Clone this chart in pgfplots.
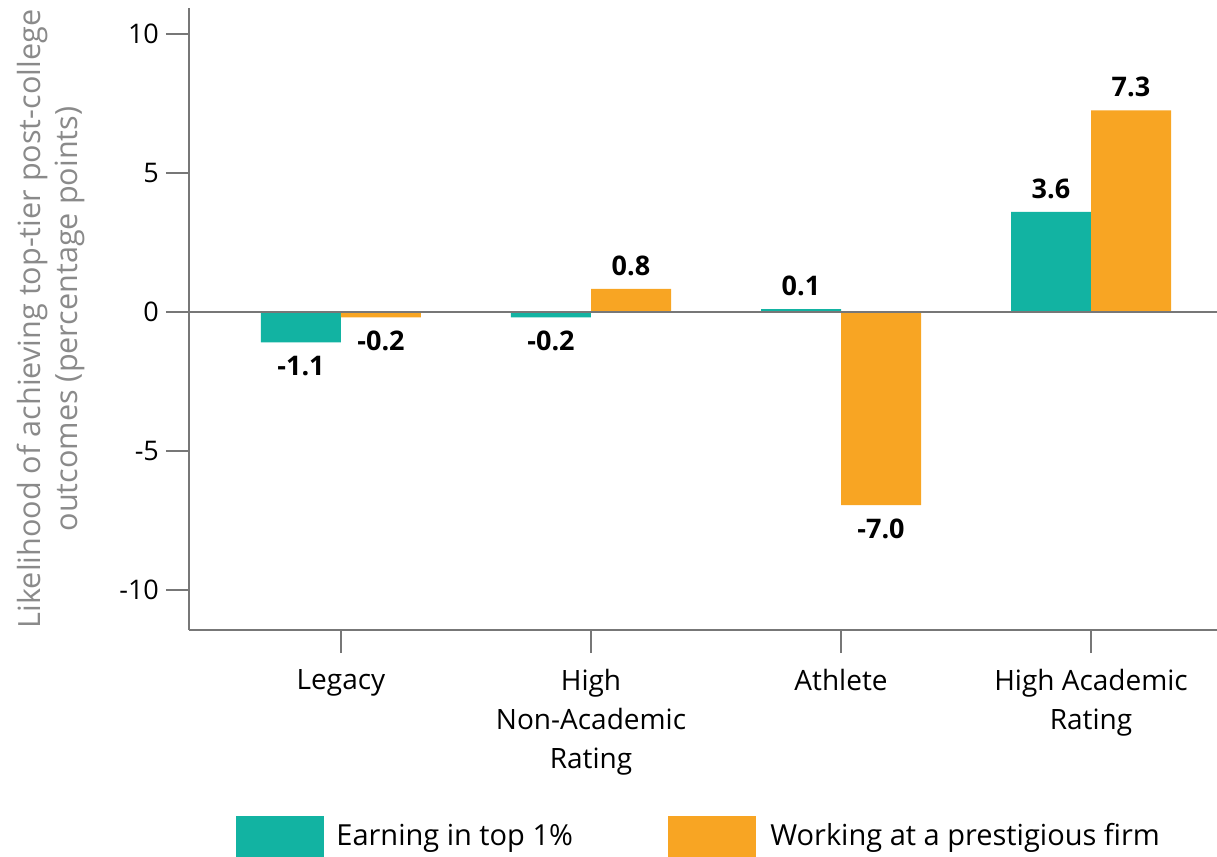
\documentclass[border=0pt]{standalone}
\usepackage{pgfplots}
\pgfplotsset{compat=1.18}
\usepackage{fontspec}
\setmainfont{Open Sans}
\definecolor{teal1}{HTML}{12B3A2}
\definecolor{orng}{HTML}{F8A523}
\definecolor{axgray}{HTML}{777777}
\definecolor{labgray}{HTML}{8A8A8A}
\begin{document}
\begin{tikzpicture}
\begin{axis}[
  scale only axis, width=514pt, height=311pt,
  xmin=-0.608, xmax=3.504, ymin=-11.44, ymax=10.93,
  axis x line=bottom, axis y line=left,
  axis line style={-, axgray, line width=1pt},
  ybar=0pt, bar width=40pt,
  xtick={0,1,2,3},
  xticklabels={Legacy,{High\\Non-Academic\\Rating},Athlete,{High Academic\\Rating}},
  ytick={-10,-5,0,5,10}, yticklabels={-10,-5,0,5,10},
  tick align=outside,
  major tick length=11.5pt,
  tick style={axgray, line width=1pt},
  x tick label style={align=center, font=\fontsize{14}{19.5}\selectfont, text=black, yshift=-4.5pt},
  y tick label style={font=\fontsize{13.5}{16}\selectfont, text=black},
  ylabel={Likelihood of achieving top-tier post-college\\outcomes (percentage points)},
  ylabel style={align=center, font=\fontsize{15.3}{18.5}\selectfont, text=labgray, at={(axis description cs:-0.1338,0.5)}, anchor=center},
  point meta=explicit symbolic,
  visualization depends on={rawy \as \rawy},
  nodes near coords,
  nodes near coords style={font=\bfseries\fontsize{13.5}{16}\selectfont, text=black, inner sep=6.5pt,
    /utils/exec={\ifdim\rawy pt<0pt \gdef\myanchor{north}\else\gdef\myanchor{south}\fi},
    anchor=\myanchor},
  legend columns=2,
  legend style={at={(0.0457,-0.365)}, anchor=south west, draw=none, inner sep=0pt, font=\fontsize{14.5}{16}\selectfont, text=black, /tikz/every even column/.append style={column sep=0pt}, cells={anchor=west}},
  clip=false,
]
\addplot[fill=teal1, draw=none, legend image code/.code={\fill[teal1] (0pt,-10.25pt) rectangle (44pt,10.25pt);}]
  coordinates {(0,-1.1) [-1.1] (1,-0.2) [-0.2] (2,0.1) [0.1] (3,3.6) [3.6]};
\addlegendentry{\hspace{4pt}\makebox[164pt][l]{Earning in top 1\%}}
\addplot[fill=orng, draw=none, legend image code/.code={\fill[orng] (0pt,-10.25pt) rectangle (44pt,10.25pt);}]
  coordinates {(0,-0.2) [-0.2] (1,0.83) [0.8] (2,-6.95) [-7.0] (3,7.25) [7.3]};
\addlegendentry{\hspace{5pt}Working at a prestigious firm}
\draw[axgray, line width=1pt] (axis cs:-0.608,0) -- (axis cs:3.504,0);
\coordinate (bl) at (rel axis cs:0,0);
\coordinate (tr) at (rel axis cs:1,1);
\end{axis}
\pgfresetboundingbox
\path[use as bounding box] ([shift={(-94.5pt,-113.5pt)}]bl) rectangle ([shift={(0pt,4pt)}]tr);
\end{tikzpicture}
\end{document}
